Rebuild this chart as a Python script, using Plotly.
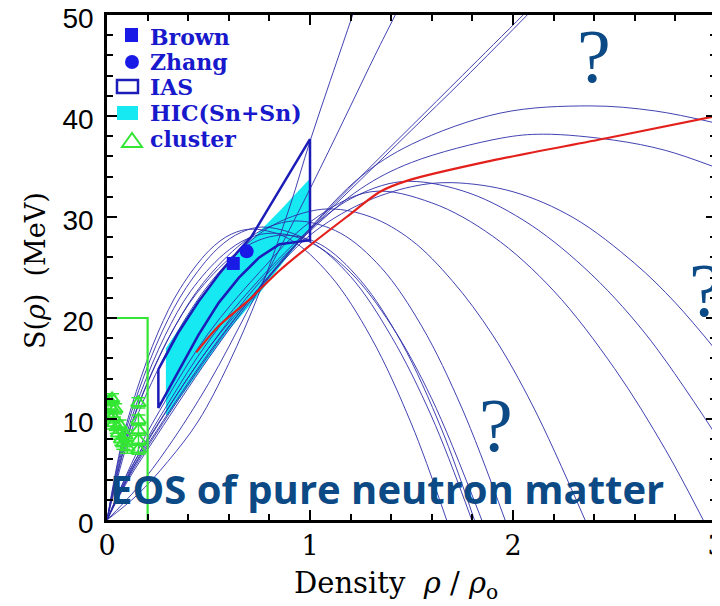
import plotly.graph_objects as go

# ---------------- data ----------------
# thin blue model curves: density (rho/rho0) and symmetry energy S (MeV)
curve_a_x = [0, 0.15, 0.3, 0.45, 0.6, 0.75, 0.9, 1.0, 1.1, 1.21, 1.26]
curve_a_s = [0, 2.5, 5.8, 9.8, 15.5, 22.5, 31, 37.5, 43.5, 50, 53]
curve_b_x = [0, 0.15, 0.3, 0.5, 0.7, 0.9, 1.05, 1.2, 1.32, 1.42, 1.47]
curve_b_s = [0, 3.2, 7.2, 13.5, 21, 28.8, 34.8, 41, 46, 50, 52]
curve_c_x = [0, 0.1, 0.25, 0.5, 0.75, 1.0, 1.25, 1.5, 1.75, 2.05, 2.2]
curve_c_s = [0, 3.8, 8.5, 16, 22.8, 28.8, 34, 39, 44, 50, 53]
curve_d_x = [0, 0.1, 0.25, 0.5, 0.75, 1.0, 1.25, 1.5, 1.75, 2.07, 2.2]
curve_d_s = [0, 4.0, 8.8, 16.3, 23, 28.7, 33.7, 38.6, 43.5, 50, 52.7]
curve_e_x = [0, 0.1, 0.25, 0.5, 0.75, 1.0, 1.25, 1.5, 1.94, 2.38, 2.7, 3.0]
curve_e_s = [0, 4.2, 9, 16.5, 23, 28.9, 34.0, 37.2, 40.3, 41.0, 40.5, 39.3]
curve_f_x = [0, 0.1, 0.25, 0.5, 0.75, 1.0, 1.25, 1.5, 1.94, 2.15, 2.5, 2.75, 3.0]
curve_f_s = [0, 4.5, 9.5, 17, 23.5, 28.6, 32.8, 35.4, 37.8, 38.2, 37.6, 36.6, 34.9]
curve_g_x = [0, 0.15, 0.3, 0.5, 0.75, 1.0, 1.25, 1.5, 1.7, 2.0, 2.3, 2.6, 2.8, 3.0]
curve_g_s = [0, 6, 11, 17, 23, 28.2, 31.3, 33.0, 33.4, 32.5, 29.9, 25.4, 21.5, 16.8]
curve_h_x = [0, 0.15, 0.3, 0.5, 0.75, 1.0, 1.2, 1.45, 1.75, 2.05, 2.35, 2.65, 3.0]
curve_h_s = [0, 6.3, 11.5, 17.7, 23.8, 28.8, 31.8, 33.5, 32.6, 29.7, 25.0, 18.5, 8.4]
curve_i_x = [0, 0.15, 0.3, 0.5, 0.75, 1.0, 1.3, 1.6, 1.9, 2.2, 2.5, 2.75, 2.937]
curve_i_s = [0, 6.8, 12.2, 18.5, 24.5, 29.5, 32.5, 31.4, 28.1, 22.7, 15.0, 7.0, 0]
curve_j_x = [0, 0.11, 0.22, 0.385, 0.55, 0.77, 0.935, 1.1, 1.3, 1.5, 1.7, 1.9, 2.1, 2.355]
curve_j_s = [0, 8.2, 13.6, 19.9, 24.5, 28.6, 30.2, 30.8, 30.0, 27.7, 23.7, 18.3, 11.2, 0]
curve_k_x = [0, 0.095, 0.19, 0.333, 0.475, 0.665, 0.808, 0.95, 1.15, 1.35, 1.55, 1.75, 1.961]
curve_k_s = [0, 7.8, 13.1, 19.1, 23.5, 27.4, 29.1, 29.6, 28.4, 25.0, 19.2, 11.0, 0]
curve_l_x = [0, 0.082, 0.164, 0.287, 0.41, 0.574, 0.697, 0.82, 1.0, 1.2, 1.4, 1.6, 1.846]
curve_l_s = [0, 7.5, 12.5, 18.3, 22.6, 26.3, 27.9, 28.4, 27.5, 24.5, 19.3, 12.0, 0]
curve_m_x = [0, 0.078, 0.156, 0.273, 0.39, 0.546, 0.663, 0.78, 1.0, 1.2, 1.4, 1.6, 1.797]
curve_m_s = [0, 7.7, 12.8, 18.7, 23.0, 26.9, 28.5, 29.0, 27.6, 24.1, 18.2, 10.2, 0]
curve_n_x = [0, 0.072, 0.144, 0.252, 0.36, 0.504, 0.612, 0.72, 0.9, 1.1, 1.3, 1.5, 1.673]
curve_n_s = [0, 7.6, 12.7, 18.6, 22.9, 26.7, 28.3, 28.8, 27.8, 24.2, 18.1, 9.5, 0]
curve_o_x = [0, 0.088, 0.176, 0.308, 0.44, 0.616, 0.748, 0.88, 1.05, 1.25, 1.45, 1.65, 1.81]
curve_o_s = [0, 7.5, 12.5, 18.2, 22.4, 26.1, 27.7, 28.2, 27.3, 23.7, 17.6, 8.9, 0]

# red curve
red_x = [0.44, 0.55, 0.7, 0.85, 1.0, 1.18, 1.345, 1.48, 1.9, 2.46, 3.0]
red_s = [16.6, 19.2, 21.8, 24.7, 27.2, 30.0, 32.5, 33.6, 35.6, 37.8, 40.0]

# constraints
brown_x = [0.622]
brown_s = [25.4]
zhang_x = [0.688]
zhang_s = [26.6]
ias_x = [0.253, 0.35, 0.45, 0.55, 0.65, 0.71, 1.0, 1.0, 0.85, 0.75, 0.65, 0.55, 0.45, 0.35, 0.253, 0.253]
ias_s = [14.9, 18.5, 21.6, 24.3, 26.7, 28.0, 37.7, 27.7, 27.3, 26.0, 24.0, 21.5, 18.3, 14.7, 11.1, 14.9]
hic_x = [0.29, 0.29, 0.45, 0.65, 0.85, 1.0, 1.0, 0.886, 0.72, 0.6, 0.45, 0.3]
hic_s = [10.4, 17.0, 21.8, 26.5, 30.6, 33.8, 28.8, 26.0, 21.6, 18.8, 14.6, 10.4]
cluster_x = [0.005, 0.012, 0.018, 0.025, 0.03, 0.035, 0.04, 0.048, 0.055, 0.062, 0.07, 0.08, 0.09, 0.1,
             0.155, 0.155, 0.155, 0.155, 0.155]
cluster_s = [10.4, 11.8, 11.2, 12.0, 10.2, 9.6, 11.0, 9.2, 8.6, 9.4, 8.0, 7.6, 8.4, 7.2,
             11.6, 9.9, 8.9, 7.9, 7.0]
cluster_err = [0.6, 0.5, 0.6, 0.5, 0.6, 0.6, 0.5, 0.6, 0.6, 0.5, 0.6, 0.6, 0.5, 0.6,
               0.5, 0.5, 0.5, 0.5, 0.5]
box_x = [0, 0.2, 0.2]
box_s = [20, 20, 0]

x_ticks = [0, 1, 2, 3]
y_ticks = [0, 10, 20, 30, 40, 50]
legend_labels = ["Brown", "Zhang", "IAS", "HIC(Sn+Sn)", "cluster"]

# ---------------- figure ----------------
BLUE_THIN = "rgba(45,45,170,0.9)"
LEG_BLUE = "#1818cc"
NAVY = "#0c4a85"
CYAN = "#16e9f2"
GREEN = "#33e633"
MARK_BLUE = "#1a1ae6"
IAS_BLUE = "#1c1cb8"

fig = go.Figure()

# HIC band (drawn first, under the curves)
fig.add_trace(go.Scatter(x=hic_x, y=hic_s, mode="lines", fill="toself",
                         fillcolor=CYAN, line=dict(width=0, color=CYAN),
                         showlegend=False, hoverinfo="skip"))

curves = [
    (curve_a_x, curve_a_s), (curve_b_x, curve_b_s), (curve_c_x, curve_c_s),
    (curve_d_x, curve_d_s), (curve_e_x, curve_e_s), (curve_f_x, curve_f_s),
    (curve_g_x, curve_g_s), (curve_h_x, curve_h_s), (curve_i_x, curve_i_s),
    (curve_j_x, curve_j_s), (curve_k_x, curve_k_s), (curve_l_x, curve_l_s),
    (curve_m_x, curve_m_s), (curve_n_x, curve_n_s), (curve_o_x, curve_o_s),
]
for cx, cs in curves:
    fig.add_trace(go.Scatter(x=cx, y=cs, mode="lines",
                             line=dict(color=BLUE_THIN, width=1, shape="spline", smoothing=1.0),
                             showlegend=False, hoverinfo="skip"))

# IAS contour
fig.add_trace(go.Scatter(x=ias_x, y=ias_s, mode="lines",
                         line=dict(color=IAS_BLUE, width=2.5),
                         showlegend=False, hoverinfo="skip"))

# red curve
fig.add_trace(go.Scatter(x=red_x, y=red_s, mode="lines",
                         line=dict(color="#e3201b", width=2.2, shape="spline", smoothing=0.8),
                         showlegend=False, hoverinfo="skip"))

# green box
fig.add_trace(go.Scatter(x=box_x, y=box_s, mode="lines",
                         line=dict(color=GREEN, width=2.2), showlegend=False, hoverinfo="skip"))

# cluster points
fig.add_trace(go.Scatter(x=cluster_x, y=cluster_s, mode="markers", showlegend=False,
                         marker=dict(symbol="triangle-up-open", size=13, color=GREEN,
                                     line=dict(width=2, color=GREEN)),
                         error_y=dict(type="data", array=cluster_err, color=GREEN,
                                      thickness=1.5, width=7),
                         hoverinfo="skip"))

# Brown / Zhang
fig.add_trace(go.Scatter(x=brown_x, y=brown_s, mode="markers", showlegend=False,
                         marker=dict(symbol="square", size=13, color=MARK_BLUE), hoverinfo="skip"))
fig.add_trace(go.Scatter(x=zhang_x, y=zhang_s, mode="markers", showlegend=False,
                         marker=dict(symbol="circle", size=14, color=MARK_BLUE), hoverinfo="skip"))

# ---- hand-made legend (glyphs in plot-area fractions) ----
fig.add_shape(type="rect", xref="x domain", yref="y domain",
              x0=0.0296, x1=0.0509, y0=0.9465, y1=0.9743,
              fillcolor=MARK_BLUE, line=dict(width=0))
fig.add_shape(type="circle", xref="x domain", yref="y domain",
              x0=0.0296, x1=0.0525, y0=0.8931, y1=0.9208,
              fillcolor=MARK_BLUE, line=dict(width=0))
fig.add_shape(type="rect", xref="x domain", yref="y domain",
              x0=0.0164, x1=0.0509, y0=0.8455, y1=0.8713,
              fillcolor="rgba(0,0,0,0)", line=dict(width=2.5, color=IAS_BLUE))
fig.add_shape(type="rect", xref="x domain", yref="y domain",
              x0=0.0164, x1=0.0509, y0=0.7921, y1=0.8198,
              fillcolor=CYAN, line=dict(width=0))
fig.add_shape(type="path", xref="x domain", yref="y domain",
              path="M 0.0246 0.7386 L 0.0575 0.7386 L 0.0411 0.7663 Z",
              fillcolor="rgba(0,0,0,0)", line=dict(width=2, color=GREEN))
for lab, ly in zip(legend_labels, [0.9564, 0.9069, 0.8574, 0.8059, 0.7545]):
    fig.add_annotation(xref="x domain", yref="y domain", x=0.0673, y=ly,
                       xanchor="left", yanchor="middle", text="<b>%s</b>" % lab,
                       showarrow=False,
                       font=dict(family="DejaVu Serif", size=22, color=LEG_BLUE))

# text annotations
for qx, qy in [(2.40, 45.9), (2.95, 22.8), (1.915, 9.4)]:
    fig.add_annotation(x=qx, y=qy, text="?", showarrow=False,
                       font=dict(family="Liberation Serif", size=76, color=NAVY))
fig.add_annotation(x=1.377, y=3.1, text="<b>EOS of pure neutron matter</b>", showarrow=False,
                   font=dict(family="Open Sans", size=40, color=NAVY))

# axis titles
fig.add_annotation(xref="x domain", yref="y domain", x=0.4745, y=-0.128,
                   xanchor="center", yanchor="middle", showarrow=False,
                   text="Density  <i>ρ</i> / <i>ρ</i><sub>o</sub>",
                   font=dict(family="DejaVu Serif", size=29, color="black"))
fig.add_annotation(xref="x domain", yref="y domain", x=-0.1182, y=0.493,
                   xanchor="center", yanchor="middle", showarrow=False, textangle=-90,
                   text="S(<i>ρ</i>)  (MeV)",
                   font=dict(family="DejaVu Serif", size=27, color="black"))

axis_common = dict(showline=True, linewidth=2.5, linecolor="black", mirror="allticks",
                   ticks="inside", ticklen=10, tickwidth=2, tickcolor="black",
                   showgrid=False, zeroline=False, automargin=False,
                   ticklabeloverflow="allow")

fig.update_xaxes(range=[0, 3], tickvals=x_ticks, ticktext=[str(v) for v in x_ticks],
                 minor=dict(dtick=0.2, ticks="inside", ticklen=6, tickwidth=1.5, tickcolor="black"),
                 tickfont=dict(family="DejaVu Serif", size=27, color="black"),
                 **axis_common)
fig.update_yaxes(range=[0, 50], tickvals=y_ticks, ticktext=[str(v) for v in y_ticks],
                 minor=dict(dtick=2, ticks="inside", ticklen=6, tickwidth=1.5, tickcolor="black"),
                 tickfont=dict(family="Liberation Sans", size=28, color="black"),
                 ticklabelstandoff=5, ticklabelshift=3,
                 **axis_common)

# the page adds an 8 px body margin, so the figure is offset by 8 px
fig.update_layout(
    width=712, height=598,
    margin=dict(l=99, r=4, t=7, b=86),
    paper_bgcolor="white", plot_bgcolor="white",
    showlegend=False,
)

fig.write_html("out.html")
